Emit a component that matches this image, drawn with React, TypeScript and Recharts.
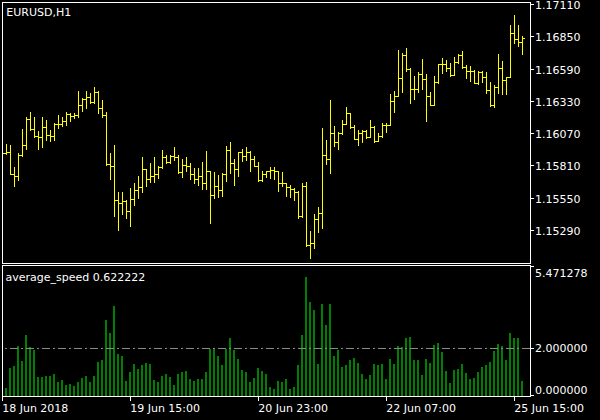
import React from 'react';
import { ComposedChart, Bar, XAxis, YAxis, ReferenceLine } from 'recharts';

const FONT = '"DejaVu Sans", sans-serif';

// ---- price bars (EURUSD, H1), index 0 = 18 Jun 2018 07:00 ----
const opens = [
  1.15929, 1.15907, 1.15921, 1.15744, 1.15727, 1.15891, 1.15972, 1.16184, 1.16103, 1.16047,
  1.16039, 1.16117, 1.16052, 1.16047, 1.16141, 1.16144, 1.16165, 1.16224, 1.16211, 1.16213,
  1.16297, 1.16345, 1.16358, 1.16318, 1.16401, 1.16270, 1.16216, 1.15822, 1.15805, 1.15532,
  1.15505, 1.15521, 1.15443, 1.15537, 1.15612, 1.15639, 1.15779, 1.15698, 1.15725, 1.15741,
  1.15800, 1.15875, 1.15840, 1.15886, 1.15881, 1.15754, 1.15813, 1.15805, 1.15741, 1.15698,
  1.15725, 1.15669, 1.15762, 1.15572, 1.15644, 1.15609, 1.15744, 1.15932, 1.15827, 1.15784,
  1.15915, 1.15889, 1.15918, 1.15862, 1.15808, 1.15693, 1.15741, 1.15762, 1.15771, 1.15762,
  1.15669, 1.15669, 1.15634, 1.15618, 1.15599, 1.15400, 1.15644, 1.15169, 1.15188, 1.15376,
  1.15430, 1.15894, 1.15859, 1.16074, 1.15996, 1.16074, 1.16144, 1.16229, 1.16117, 1.16023,
  1.16068, 1.16090, 1.16039, 1.16119, 1.16004, 1.16050, 1.16136, 1.16133, 1.16329, 1.16369,
  1.16511, 1.16697, 1.16584, 1.16428, 1.16423, 1.16544, 1.16503, 1.16372, 1.16294, 1.16482,
  1.16624, 1.16627, 1.16592, 1.16535, 1.16643, 1.16699, 1.16605, 1.16570, 1.16570, 1.16471,
  1.16560, 1.16519, 1.16417, 1.16294, 1.16439, 1.16592, 1.16495, 1.16519, 1.16874, 1.16825,
  1.16801,
];
const highs = [
  1.15961, 1.15982, 1.15975, 1.15800, 1.15910, 1.16103, 1.16197, 1.16237, 1.16200, 1.16087,
  1.16200, 1.16173, 1.16095, 1.16152, 1.16213, 1.16200, 1.16240, 1.16235, 1.16229, 1.16412,
  1.16353, 1.16409, 1.16391, 1.16442, 1.16407, 1.16337, 1.16237, 1.15907, 1.15975, 1.15596,
  1.15596, 1.15532, 1.15628, 1.15669, 1.15725, 1.15878, 1.15779, 1.15830, 1.15878, 1.15805,
  1.15934, 1.15894, 1.15894, 1.15961, 1.15894, 1.15859, 1.15878, 1.15827, 1.15789, 1.15787,
  1.15838, 1.15926, 1.15765, 1.15757, 1.15733, 1.15746, 1.15969, 1.15999, 1.15862, 1.15918,
  1.15942, 1.15961, 1.15924, 1.15886, 1.15835, 1.15765, 1.15768, 1.15795, 1.15795, 1.15765,
  1.15757, 1.15671, 1.15652, 1.15626, 1.15604, 1.15671, 1.15677, 1.15285, 1.15419, 1.15478,
  1.16114, 1.16015, 1.16337, 1.16127, 1.16077, 1.16176, 1.16280, 1.16229, 1.16136, 1.16095,
  1.16095, 1.16095, 1.16176, 1.16127, 1.16074, 1.16149, 1.16154, 1.16385, 1.16412, 1.16739,
  1.16713, 1.16758, 1.16592, 1.16530, 1.16562, 1.16667, 1.16544, 1.16401, 1.16530, 1.16627,
  1.16675, 1.16659, 1.16632, 1.16686, 1.16705, 1.16731, 1.16619, 1.16608, 1.16578, 1.16570,
  1.16570, 1.16565, 1.16482, 1.16458, 1.16707, 1.16651, 1.16525, 1.16941, 1.17021, 1.16938,
  1.16852,
];
const lows = [
  1.15894, 1.15902, 1.15738, 1.15647, 1.15693, 1.15886, 1.15940, 1.16098, 1.16036, 1.15945,
  1.15958, 1.16015, 1.16009, 1.16017, 1.16114, 1.16127, 1.16138, 1.16170, 1.16195, 1.16197,
  1.16251, 1.16275, 1.16310, 1.16315, 1.16229, 1.16197, 1.15813, 1.15701, 1.15403, 1.15290,
  1.15419, 1.15389, 1.15322, 1.15494, 1.15550, 1.15596, 1.15644, 1.15679, 1.15679, 1.15706,
  1.15792, 1.15827, 1.15832, 1.15854, 1.15752, 1.15720, 1.15768, 1.15701, 1.15666, 1.15650,
  1.15620, 1.15620, 1.15349, 1.15550, 1.15558, 1.15567, 1.15685, 1.15752, 1.15652, 1.15725,
  1.15846, 1.15854, 1.15765, 1.15803, 1.15687, 1.15685, 1.15720, 1.15711, 1.15698, 1.15607,
  1.15644, 1.15567, 1.15558, 1.15532, 1.15389, 1.15392, 1.15164, 1.15067, 1.15142, 1.15277,
  1.15309, 1.15819, 1.15746, 1.15969, 1.15945, 1.16063, 1.16141, 1.16114, 1.16020, 1.15977,
  1.16001, 1.16028, 1.16036, 1.16001, 1.16004, 1.16039, 1.16082, 1.16133, 1.16243, 1.16369,
  1.16404, 1.16573, 1.16315, 1.16345, 1.16399, 1.16428, 1.16170, 1.16294, 1.16294, 1.16471,
  1.16557, 1.16573, 1.16533, 1.16535, 1.16632, 1.16592, 1.16517, 1.16490, 1.16471, 1.16466,
  1.16484, 1.16391, 1.16291, 1.16283, 1.16396, 1.16385, 1.16385, 1.16519, 1.16798, 1.16774,
  1.16707,
];
const closes = [
  1.15907, 1.15921, 1.15744, 1.15727, 1.15891, 1.15972, 1.16184, 1.16103, 1.16047, 1.16039,
  1.16117, 1.16052, 1.16047, 1.16141, 1.16144, 1.16165, 1.16224, 1.16211, 1.16213, 1.16297,
  1.16345, 1.16358, 1.16318, 1.16401, 1.16270, 1.16216, 1.15822, 1.15805, 1.15532, 1.15505,
  1.15521, 1.15443, 1.15537, 1.15612, 1.15639, 1.15779, 1.15698, 1.15725, 1.15741, 1.15800,
  1.15875, 1.15840, 1.15886, 1.15881, 1.15754, 1.15813, 1.15805, 1.15741, 1.15698, 1.15725,
  1.15669, 1.15762, 1.15572, 1.15644, 1.15609, 1.15744, 1.15932, 1.15827, 1.15784, 1.15915,
  1.15889, 1.15918, 1.15862, 1.15808, 1.15693, 1.15741, 1.15762, 1.15771, 1.15762, 1.15669,
  1.15669, 1.15634, 1.15618, 1.15599, 1.15400, 1.15644, 1.15169, 1.15188, 1.15376, 1.15430,
  1.15894, 1.15859, 1.16074, 1.15996, 1.16074, 1.16144, 1.16229, 1.16117, 1.16023, 1.16068,
  1.16090, 1.16039, 1.16119, 1.16004, 1.16050, 1.16136, 1.16133, 1.16329, 1.16369, 1.16511,
  1.16697, 1.16584, 1.16428, 1.16423, 1.16544, 1.16503, 1.16372, 1.16294, 1.16482, 1.16624,
  1.16627, 1.16592, 1.16535, 1.16643, 1.16699, 1.16605, 1.16570, 1.16570, 1.16471, 1.16560,
  1.16519, 1.16417, 1.16294, 1.16439, 1.16592, 1.16495, 1.16519, 1.16874, 1.16825, 1.16801,
  1.16833,
];

// ---- average_speed indicator ----
const speed: (number | null)[] = [
  null, 0.35, 1.19, 1.26, 2.10, 1.47, 2.56, 2.06, 1.93, 0.80,
  0.80, 0.84, 0.84, 0.94, 0.59, 0.67, 0.46, 0.50, 0.42, 0.59,
  0.76, 0.84, 0.59, 0.84, 1.43, 1.51, 3.19, 2.64, 3.78, 1.76,
  1.68, 0.63, 1.01, 1.34, 1.13, 1.30, 1.38, 1.34, 0.67, 0.59,
  0.84, 0.92, 0.80, 0.46, 0.92, 1.01, 1.05, 0.71, 0.63, 0.71,
  0.71, 1.01, 1.97, 1.97, 1.68, 1.30, 1.97, 2.43, 1.93, 1.55,
  1.09, 1.01, 0.59, 0.76, 1.17, 1.05, 0.92, 0.38, 0.29, 0.63,
  0.59, 0.71, 0.29, 0.38, 1.30, 2.56, 4.99, 3.94, 3.61, 1.34,
  3.86, 2.98, 3.86, 1.68, 1.93, 1.22, 1.30, 1.51, 1.59, 1.38,
  0.92, 0.71, 0.88, 1.34, 1.30, 1.34, 0.71, 1.55, 1.34, 2.10,
  2.06, 2.43, 2.48, 1.51, 1.51, 0.88, 1.55, 1.38, 2.14, 2.22,
  1.85, 1.05, 0.55, 1.09, 1.13, 1.34, 0.97, 0.71, 0.76, 1.01,
  1.22, 1.30, 1.43, 1.89, 2.18, 2.10, 1.51, 2.64, 2.43, 2.43,
  0.622222,
];

const timeTickIndex = [0, 32, 64, 96, 128];
const timeTickLabels = ['18 Jun 2018', '19 Jun 15:00', '20 Jun 23:00', '22 Jun 07:00', '25 Jun 15:00'];
const priceTicks = [1.1711, 1.1685, 1.1659, 1.1633, 1.1607, 1.1581, 1.1555, 1.1529];
const speedTicks = [0, 2, 5.471278];
const speedLevel = 2;
const symbolTitle = 'EURUSD,H1';
const indicatorTitle = 'average_speed 0.622222';

const priceRows = opens.map((o, i) => ({
  i,
  o,
  h: highs[i],
  l: lows[i],
  c: closes[i],
  range: [lows[i], highs[i]],
}));
const speedRows = speed.map((v, i) => ({ i, v }));

const YELLOW = '#FFFF00';
const GREEN = '#008000';
const WHITE = '#FFFFFF';

const OhlcShape = (props: any) => {
  const { x, y, width, height, payload } = props;
  if (x == null || y == null || !payload) return null;
  const px = Math.round(x + width / 2);
  const yTop = Math.min(y, y + height);
  const yBot = Math.max(y, y + height);
  const span = payload.h - payload.l;
  const yOf = (p: number) => (span > 0 ? yTop + ((payload.h - p) / span) * (yBot - yTop) : yTop);
  const top = Math.round(yTop);
  const bot = Math.round(yBot);
  const yo = Math.round(yOf(payload.o));
  const yc = Math.round(yOf(payload.c));
  return (
    <g>
      <rect x={px} y={top} width={1} height={Math.max(1, bot - top + 1)} fill={YELLOW} />
      <rect x={px - 2} y={yo} width={2} height={1} fill={YELLOW} />
      <rect x={px + 1} y={yc} width={2} height={1} fill={YELLOW} />
    </g>
  );
};

const SpeedShape = (props: any) => {
  const { x, y, width, height } = props;
  if (x == null || y == null || !height) return null;
  const px = Math.round(x + width / 2);
  const top = Math.round(Math.min(y, y + height));
  const bot = Math.round(Math.max(y, y + height));
  return <rect x={px - 1} y={top} width={2} height={Math.max(0, bot - top)} fill={GREEN} />;
};

const PriceTick = (props: any) => {
  const { y, payload } = props;
  const yy = Math.round(y);
  return (
    <g>
      <rect x={531} y={yy} width={3} height={1} fill={WHITE} />
      <text x={535} y={yy + 4.5} fill={WHITE} fontFamily={FONT} fontSize={11}>
        {Number(payload.value).toFixed(5)}
      </text>
    </g>
  );
};

const SpeedTick = (props: any) => {
  const { y, payload } = props;
  const tickY = Math.min(Math.round(y), 395);
  const base = Math.min(Math.max(y + 4, 276.7), 393.5);
  return (
    <g>
      <rect x={531} y={tickY} width={3} height={1} fill={WHITE} />
      <text x={535} y={base} fill={WHITE} fontFamily={FONT} fontSize={11}>
        {Number(payload.value).toFixed(6)}
      </text>
    </g>
  );
};

const TimeTick = (props: any) => {
  const { x, payload } = props;
  const idx = timeTickIndex.indexOf(payload.value);
  const px = Math.round(x);
  return (
    <g>
      <rect x={px} y={397} width={1} height={4} fill={WHITE} />
      <text x={px + 0.2} y={411.5} fill={WHITE} fontFamily={FONT} fontSize={11}>
        {idx >= 0 ? timeTickLabels[idx] : ''}
      </text>
    </g>
  );
};

const layer: React.CSSProperties = { position: 'absolute', left: 0, top: 0 };

export default function App() {
  return (
    <div style={{ position: 'absolute', left: 0, top: 0, width: 600, height: 420, background: '#000', overflow: 'hidden' }}>
      <div style={layer}>
        <ComposedChart width={600} height={420} data={priceRows} margin={{ top: 2, right: 0, bottom: 157, left: 2 }}>
          <XAxis dataKey="i" type="number" domain={[0, 132]} allowDataOverflow hide />
          <YAxis
            orientation="right"
            width={70}
            domain={[1.15024, 1.17126]}
            allowDataOverflow
            ticks={priceTicks}
            interval={0}
            axisLine={false}
            tickLine={false}
            tickSize={4}
            tickMargin={2}
            tick={<PriceTick />}
          />
          <Bar dataKey="range" barSize={2} isAnimationActive={false} shape={<OhlcShape />} />
        </ComposedChart>
      </div>
      <div style={layer}>
        <ComposedChart width={600} height={420} data={speedRows} margin={{ top: 266, right: 0, bottom: 0, left: 2 }}>
          <XAxis
            dataKey="i"
            type="number"
            domain={[0, 132]}
            allowDataOverflow
            ticks={timeTickIndex}
            interval={0}
            height={24}
            axisLine={false}
            tickLine={false}
            tickSize={4}
            tickMargin={0}
            tick={<TimeTick />}
          />
          <YAxis
            orientation="right"
            width={70}
            domain={[0, 5.471278]}
            allowDataOverflow
            ticks={speedTicks}
            interval={0}
            axisLine={false}
            tickLine={false}
            tickSize={4}
            tickMargin={2}
            tick={<SpeedTick />}
          />
          <ReferenceLine y={speedLevel} stroke="#8c8c8c" strokeDasharray="8 3 2 3" isFront={false} />
          <Bar dataKey="v" barSize={2} isAnimationActive={false} shape={<SpeedShape />} />
        </ComposedChart>
      </div>
      <div style={{ position: 'absolute', left: 2, top: 2, width: 529, height: 262, border: '1px solid #fff', boxSizing: 'border-box', pointerEvents: 'none' }} />
      <div style={{ position: 'absolute', left: 2, top: 265, width: 529, height: 132, border: '1px solid #fff', boxSizing: 'border-box', pointerEvents: 'none' }} />
      <svg width={600} height={420} style={{ ...layer, pointerEvents: 'none' }}>
        <text x={6.3} y={16} fill={WHITE} fontFamily={FONT} fontSize={11}>{symbolTitle}</text>
        <text x={5.4} y={280.5} fill={WHITE} fontFamily={FONT} fontSize={11}>{indicatorTitle}</text>
      </svg>
    </div>
  );
}
